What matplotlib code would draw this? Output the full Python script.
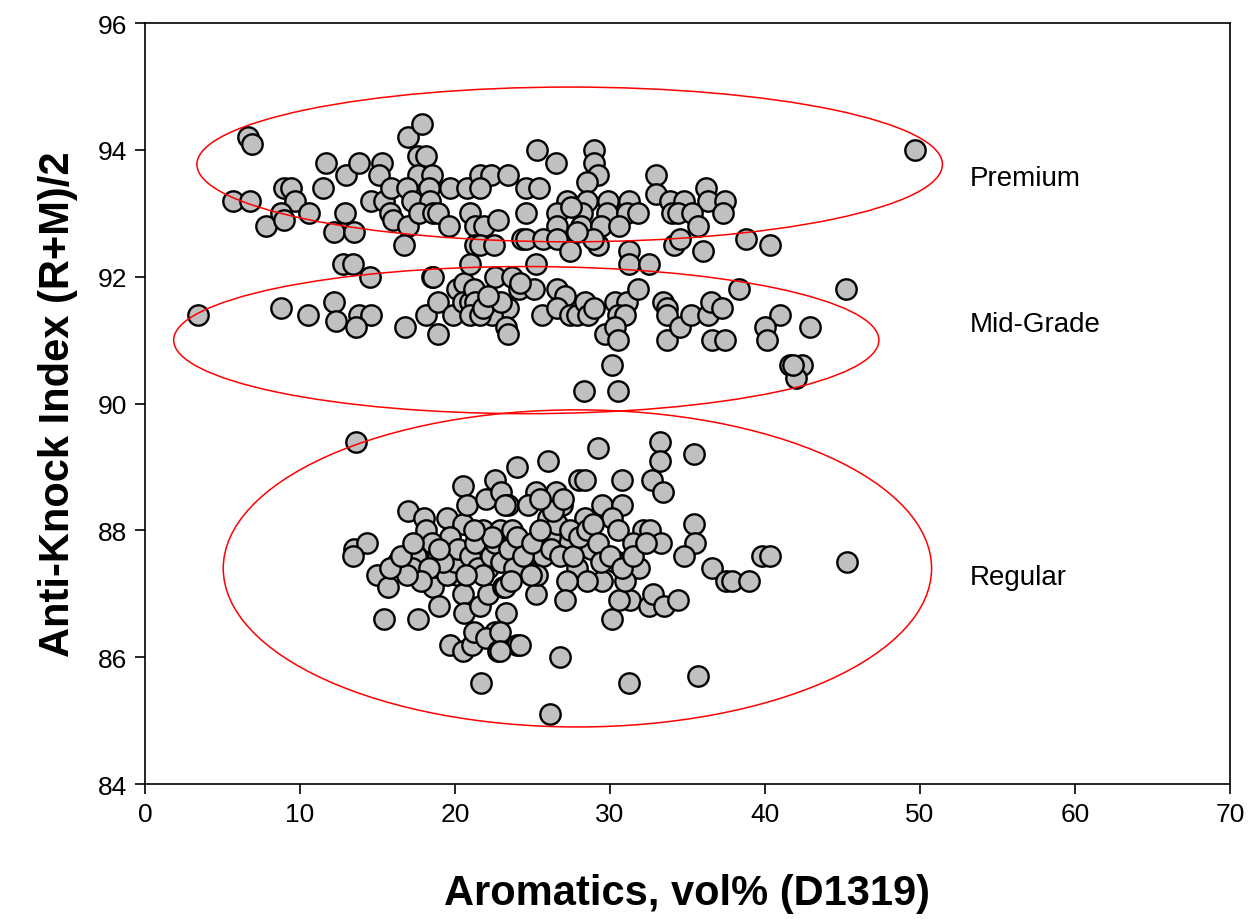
# Anti-knock index vs aromatics content, grouped by gasoline grade

import matplotlib.pyplot as plt
from matplotlib.patches import Ellipse

plt.rcParams['font.family'] = ['Liberation Sans', 'DejaVu Sans']

# Premium
premium_x = [6.65, 6.9, 5.7, 6.8, 7.8, 9.0, 9.4, 9.7, 8.8, 9.0, 10.6, 11.5, 11.7, 13.0, 13.8,
             12.9, 12.2, 13.5, 12.8, 13.4, 14.5, 15.3, 15.1, 14.6, 15.4, 15.9, 15.8, 16.0, 17.0,
             17.9, 17.6, 18.1, 17.6, 18.5, 16.9, 17.2, 18.3, 18.4, 17.0, 16.7, 17.7, 18.6, 18.9,
             19.6, 19.7, 20.8, 21.0, 21.3, 21.3, 21.0, 18.6, 21.6, 25.3, 26.5, 29.0, 29.0, 29.2,
             28.5, 22.3, 23.4, 21.6, 24.6, 25.4, 27.2, 28.5, 29.9, 31.2, 33.0, 33.0, 33.9, 34.8,
             36.2, 36.3, 37.4, 24.6, 26.6, 28.2, 29.8, 31.1, 31.8, 34.0, 34.4, 35.3, 37.3, 21.9,
             26.6, 28.1, 29.4, 35.7, 21.6, 22.5, 24.3, 24.6, 25.7, 26.6, 27.4, 29.2, 31.2, 31.2,
             32.5, 34.1, 34.5, 36.0, 38.8, 25.2, 49.7, 40.3, 27.5, 28.9, 27.9, 22.8, 30.6]
premium_y = [94.2, 94.1, 93.2, 93.2, 92.8, 93.4, 93.4, 93.2, 93.0, 92.9, 93.0, 93.4, 93.8, 93.6, 93.8,
             93.0, 92.7, 92.7, 92.2, 92.2, 92.0, 93.8, 93.6, 93.2, 93.2, 93.4, 93.0, 92.9, 94.2,
             94.4, 93.9, 93.9, 93.6, 93.6, 93.4, 93.2, 93.4, 93.2, 92.8, 92.5, 93.0, 93.0, 93.0,
             92.8, 93.4, 93.4, 93.0, 92.8, 92.5, 92.2, 92.0, 93.6, 94.0, 93.8, 94.0, 93.8, 93.6,
             93.5, 93.6, 93.6, 93.4, 93.4, 93.4, 93.2, 93.2, 93.2, 93.2, 93.6, 93.3, 93.2, 93.2,
             93.4, 93.2, 93.2, 93.0, 93.0, 93.0, 93.0, 93.0, 93.0, 93.0, 93.0, 93.0, 93.0, 92.8,
             92.8, 92.8, 92.8, 92.8, 92.5, 92.5, 92.6, 92.6, 92.6, 92.6, 92.4, 92.5, 92.4, 92.2,
             92.2, 92.5, 92.6, 92.4, 92.6, 92.2, 94.0, 92.5, 93.1, 92.6, 92.7, 92.9, 92.8]

# Mid-Grade
mid_x = [3.4, 8.8, 10.5, 12.2, 12.3, 13.8, 14.6, 13.6, 18.5, 16.8, 18.1, 18.9, 18.9, 19.9, 20.1,
         20.6, 20.5, 21.0, 21.2, 22.6, 23.7, 24.1, 25.1, 26.6, 27.1, 21.3, 22.7, 23.4, 22.4, 21.0,
         21.6, 23.3, 23.4, 25.6, 26.6, 27.4, 27.9, 28.4, 28.6, 29.0, 30.3, 31.1, 31.8, 30.5, 31.0,
         29.7, 30.3, 30.5, 30.1, 28.3, 30.5, 33.4, 33.7, 33.7, 33.7, 34.5, 35.2, 36.3, 36.5, 37.2,
         36.6, 37.4, 38.3, 45.2, 41.0, 40.0, 40.1, 42.9, 41.6, 42.4, 42.0, 41.8, 21.8, 23.0, 22.1,
         24.2]
mid_y = [91.4, 91.5, 91.4, 91.6, 91.3, 91.4, 91.4, 91.2, 92.0, 91.2, 91.4, 91.6, 91.1, 91.4, 91.8,
         91.9, 91.6, 91.6, 91.8, 92.0, 92.0, 91.8, 91.8, 91.8, 91.7, 91.6, 91.6, 91.5, 91.4, 91.4,
         91.4, 91.2, 91.1, 91.4, 91.5, 91.4, 91.4, 91.6, 91.4, 91.5, 91.6, 91.6, 91.8, 91.4, 91.4,
         91.1, 91.2, 91.0, 90.6, 90.2, 90.2, 91.6, 91.5, 91.4, 91.0, 91.2, 91.4, 91.4, 91.6, 91.5,
         91.0, 91.0, 91.8, 91.8, 91.4, 91.2, 91.0, 91.2, 90.6, 90.6, 90.4, 90.6, 91.5, 91.6, 91.7,
         91.9]

# Regular
regular_x = [13.6, 13.5, 14.3, 13.4, 20.5, 17.0, 18.0, 18.1, 19.5, 20.5, 20.8, 19.7, 18.5, 17.5,
             18.9, 20.1, 16.3, 21.8, 22.9, 22.0, 22.6, 23.0, 23.4, 24.0, 26.0, 29.2, 33.2, 33.2,
             35.4, 32.7, 33.4, 30.8, 28.0, 28.4, 26.5, 25.2, 23.2, 24.7, 26.0, 26.9, 28.4, 29.5,
             30.8, 30.1, 30.5, 32.1, 32.6, 31.5, 33.3, 35.4, 35.5, 34.8, 36.6, 23.7, 24.6, 25.7,
             27.2, 28.8, 30.5, 27.9, 26.1, 26.6, 15.4, 17.6, 21.7, 15.0, 15.7, 16.3, 17.2, 18.6,
             19.0, 20.1, 20.5, 20.6, 21.6, 22.1, 22.1, 23.1, 23.3, 19.7, 20.5, 21.1, 21.2, 22.6,
             22.0, 22.8, 24.0, 26.1, 26.8, 24.2, 22.9, 22.9, 31.2, 35.7, 30.1, 31.9, 31.3, 30.6,
             32.5, 32.8, 33.5, 34.4, 31.0, 29.5, 28.5, 27.2, 27.1, 25.2, 23.2, 30.3, 24.2, 25.3,
             39.8, 40.3, 45.3, 37.5, 37.9, 39.0, 19.5, 20.0, 20.2, 21.0, 21.3, 21.5, 21.8,
             22.3, 22.6, 23.0, 23.5, 23.8, 24.0, 24.4, 25.0, 25.5, 26.2, 26.8, 27.4, 27.6, 28.0,
             28.5, 28.9, 29.2, 29.4, 30.0, 30.8, 31.5, 32.3, 26.3, 27.0, 25.5, 24.9, 23.6, 22.4,
             21.2, 20.7, 19.2, 18.3, 17.8, 16.9, 15.8, 16.5, 17.3, 19.0]
regular_y = [89.4, 87.7, 87.8, 87.6, 88.7, 88.3, 88.2, 88.0, 88.2, 88.1, 88.4, 87.9, 87.8, 87.6,
             87.6, 87.6, 87.5, 88.0, 88.0, 88.5, 88.8, 88.6, 88.4, 89.0, 89.1, 89.3, 89.4, 89.1,
             89.2, 88.8, 88.6, 88.8, 88.8, 88.8, 88.6, 88.6, 88.4, 88.4, 88.2, 88.4, 88.2, 88.4,
             88.4, 88.2, 88.0, 88.0, 88.0, 87.8, 87.8, 88.1, 87.8, 87.6, 87.4, 88.0, 87.6, 87.6,
             87.8, 87.7, 87.5, 87.4, 87.9, 88.1, 86.6, 86.6, 85.6, 87.3, 87.1, 87.5, 87.4, 87.1,
             86.8, 87.3, 87.0, 86.7, 86.8, 87.0, 87.4, 87.1, 86.7, 86.2, 86.1, 86.2, 86.4, 86.4,
             86.3, 86.1, 86.2, 85.1, 86.0, 86.2, 86.4, 86.1, 85.6, 85.7, 86.6, 87.4, 86.9, 86.9,
             86.8, 87.0, 86.8, 86.9, 87.2, 87.2, 87.2, 87.2, 86.9, 87.0, 87.1, 87.5, 87.4, 87.3,
             87.6, 87.6, 87.5, 87.2, 87.2, 87.2, 87.3, 87.5, 87.7, 87.6, 87.8, 87.4, 87.3,
             87.6, 87.8, 87.5, 87.7, 87.4, 87.9, 87.6, 87.8, 88.0, 87.7, 87.6, 88.0, 87.6, 87.9,
             88.0, 88.1, 87.8, 87.5, 87.6, 87.4, 87.6, 87.8, 88.3, 88.5, 88.5, 87.3, 87.2, 87.9,
             88.0, 87.3, 87.5, 87.4, 87.2, 87.3, 87.4, 87.6, 87.8, 87.7]

# grade ellipses: centre x, centre y, width, height
grades = ["Premium", "Mid-Grade", "Regular"]
ell_cx = [27.4, 24.6, 27.9]
ell_cy = [93.77, 91.0, 87.4]
ell_w = [48.1, 45.5, 45.7]
ell_h = [2.44, 2.32, 5.0]
label_y = [93.55, 91.25, 87.27]

fig = plt.figure(figsize=(12.53, 9.2), dpi=100)
ax = fig.add_axes([0.1157, 0.1467, 0.8659, 0.8272])

marker = dict(s=215, facecolor="#c0c0c0", edgecolor="black", linewidths=1.7, zorder=3)
ax.scatter(regular_x, regular_y, **marker)
ax.scatter(mid_x, mid_y, **marker)
ax.scatter(premium_x, premium_y, **marker)

for i in range(3):
    ax.add_patch(Ellipse((ell_cx[i], ell_cy[i]), ell_w[i], ell_h[i],
                         fill=False, edgecolor="red", lw=1.1, zorder=4))
    ax.text(53.2, label_y[i], grades[i], fontsize=20, va="center", ha="left")

ax.set_xlim(0, 70)
ax.set_ylim(84, 96)
ax.set_xticks(range(0, 71, 10))
ax.set_yticks(range(84, 97, 2))
ax.tick_params(direction="out", length=7, width=1.2, labelsize=19, pad=6)
for sp in ax.spines.values():
    sp.set_linewidth(1.2)

ax.set_xlabel("Aromatics, vol% (D1319)", fontsize=30, fontweight="bold", labelpad=34)
ax.set_ylabel("Anti-Knock Index (R+M)/2", fontsize=30, fontweight="bold", labelpad=14)

plt.savefig("out.png", dpi=100)
